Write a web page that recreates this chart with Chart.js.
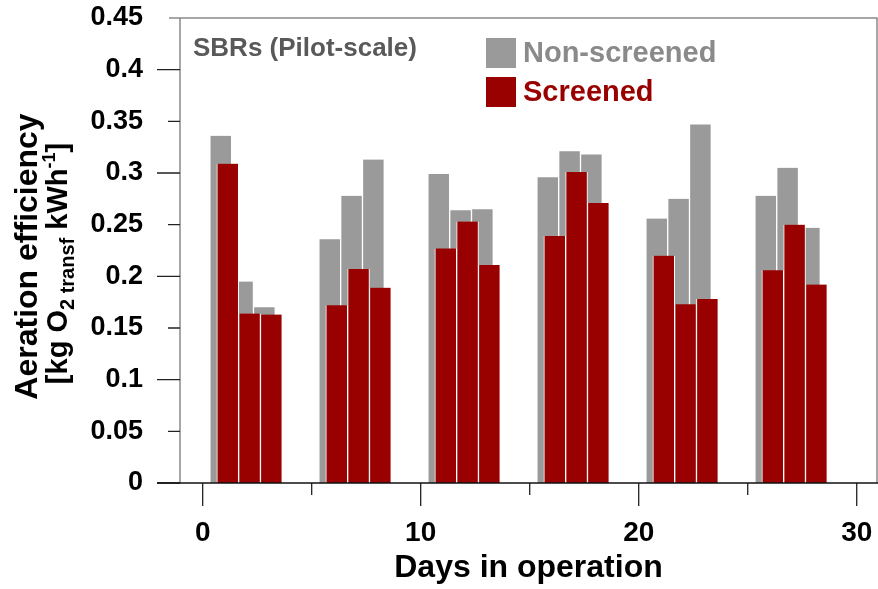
<!DOCTYPE html>
<html>
<head>
<meta charset="utf-8">
<script src="https://cdn.jsdelivr.net/npm/chart.js@4.4.1/dist/chart.umd.min.js"></script>
<style>
  html, body { margin: 0; padding: 0; background: #fff; }
  #wrap { width: 878px; height: 589px; }
</style>
</head>
<body>
<div id="wrap"><canvas id="chart"></canvas></div>
<script>
// days on which aeration efficiency was measured
const days = [1, 2, 3, 6, 7, 8, 11, 12, 13, 16, 17, 18, 21, 22, 23, 26, 27, 28];
// kg O2 transferred per kWh
const nonScreened = [0.336, 0.195, 0.170, 0.236, 0.278, 0.313, 0.299, 0.264, 0.265,
                     0.296, 0.321, 0.318, 0.256, 0.275, 0.347, 0.278, 0.305, 0.247];
const screened = [0.309, 0.164, 0.163, 0.172, 0.207, 0.189, 0.227, 0.253, 0.211,
                  0.239, 0.301, 0.271, 0.220, 0.173, 0.178, 0.206, 0.250, 0.192];

const xTickValues = [0, 10, 20, 30];
const xMinorTickValues = [5, 15, 25];
const yTickValues = [0, 0.05, 0.1, 0.15, 0.2, 0.25, 0.3, 0.35, 0.4, 0.45];

const FONT = "'Liberation Sans', Arial, Helvetica, sans-serif";
const GRAY = '#9a9a9a';
const RED = '#990000';

const fixedTicks = (values) => (scale) => {
  scale.ticks = values.map(v => ({ value: v }));
};

// grey box, black x axis and the tick marks (long on major, short on minor)
const axesFrame = {
  id: 'axesFrame',
  afterDatasetsDraw(chart) {
    const { ctx, chartArea: a, scales: { x, y } } = chart;
    ctx.save();
    ctx.lineWidth = 1.5;
    ctx.strokeStyle = '#8a8a8a';
    ctx.beginPath();
    ctx.moveTo(a.left - 11, a.top);
    ctx.lineTo(a.right, a.top);
    ctx.lineTo(a.right, a.bottom);
    ctx.moveTo(a.left, a.top);
    ctx.lineTo(a.left, a.bottom);
    ctx.stroke();

    ctx.strokeStyle = '#222';
    ctx.lineWidth = 1.3;
    ctx.beginPath();
    yTickValues.slice(0, -1).forEach(v => {
      const py = y.getPixelForValue(v);
      const major = Math.abs(v * 10 - Math.round(v * 10)) < 1e-6;
      ctx.moveTo(a.left - (major ? 23 : 12), py);
      ctx.lineTo(a.left, py);
    });
    xTickValues.forEach(v => {
      const px = x.getPixelForValue(v);
      ctx.moveTo(px, a.bottom);
      ctx.lineTo(px, a.bottom + 23);
    });
    xMinorTickValues.forEach(v => {
      const px = x.getPixelForValue(v);
      ctx.moveTo(px, a.bottom);
      ctx.lineTo(px, a.bottom + 12);
    });
    ctx.stroke();

    ctx.strokeStyle = '#111';
    ctx.lineWidth = 1.6;
    ctx.beginPath();
    ctx.moveTo(a.left - 23, a.bottom);
    ctx.lineTo(chart.width, a.bottom);
    ctx.stroke();
    ctx.restore();
  }
};

// y title with subscript / superscript, legend and panel label
const annotations = {
  id: 'annotations',
  afterDraw(chart) {
    const { ctx, chartArea: a } = chart;
    ctx.save();

    ctx.fillStyle = '#595959';
    ctx.font = `bold 26px ${FONT}`;
    ctx.textBaseline = 'alphabetic';
    ctx.textAlign = 'left';
    ctx.fillText('SBRs (Pilot-scale)', 193, 56);

    ctx.font = `bold 29px ${FONT}`;
    ctx.textBaseline = 'middle';
    chart.data.datasets.forEach((ds, i) => {
      const top = 38 + i * 39;
      ctx.fillStyle = ds.backgroundColor;
      ctx.fillRect(486, top, 30, 30);
      ctx.fillStyle = i === 0 ? '#8a8a8a' : RED;
      ctx.fillText(ds.label, 523, top + 16);
    });

    // rotated axis title
    const cy = (a.top + a.bottom) / 2 + 6;
    ctx.translate(0, cy);
    ctx.rotate(-Math.PI / 2);
    ctx.fillStyle = '#000';
    ctx.textBaseline = 'alphabetic';
    ctx.textAlign = 'center';
    ctx.font = `bold 32px ${FONT}`;
    ctx.fillText('Aeration efficiency', 0, 37);

    const parts = [
      { t: '[kg O', size: 29, dy: 0 },
      { t: '2', size: 20, dy: 7 },
      { t: ' transf', size: 20, dy: 7 },
      { t: ' kWh', size: 29, dy: 0 },
      { t: '-1', size: 18, dy: -12 },
      { t: ']', size: 29, dy: 0 }
    ];
    let total = 0;
    parts.forEach(p => {
      ctx.font = `bold ${p.size}px ${FONT}`;
      p.w = ctx.measureText(p.t).width;
      total += p.w;
    });
    ctx.textAlign = 'left';
    let px = -total / 2 - 7;
    parts.forEach(p => {
      ctx.font = `bold ${p.size}px ${FONT}`;
      ctx.fillText(p.t, px, 67 + p.dy);
      px += p.w;
    });
    ctx.restore();
  }
};

new Chart(document.getElementById('chart'), {
  type: 'bar',
  data: {
    labels: days,
    datasets: [
      {
        label: 'Non-screened',
        data: days.map((d, i) => ({ x: d, y: nonScreened[i] })),
        xAxisID: 'xNon',
        backgroundColor: GRAY,
        borderColor: '#ffffff',
        borderWidth: { left: 1, right: 1, top: 0, bottom: 0 },
        order: 2
      },
      {
        label: 'Screened',
        data: days.map((d, i) => ({ x: d, y: screened[i] })),
        xAxisID: 'xScr',
        backgroundColor: RED,
        borderColor: '#ffffff',
        borderWidth: { left: 1, right: 1, top: 0, bottom: 0 },
        order: 1
      }
    ]
  },
  options: {
    responsive: true,
    maintainAspectRatio: false,
    animation: false,
    grouped: false,
    barPercentage: 1,
    categoryPercentage: 1,
    layout: { padding: { top: 18, right: 1, left: 0, bottom: 0 } },
    plugins: { legend: { display: false }, tooltip: { enabled: false } },
    scales: {
      x: {
        type: 'linear',
        position: 'bottom',
        offset: false,
        min: -1.04,
        max: 30.93,
        afterBuildTicks: fixedTicks(xTickValues),
        afterFit: (s) => { s.height = 106; },
        grid: { display: false, drawTicks: true, tickLength: 33 },
        border: { display: false },
        ticks: {
          padding: 0,
          color: '#000',
          maxRotation: 0,
          font: { family: FONT, size: 28, weight: 'bold' }
        },
        title: {
          display: true,
          text: 'Days in operation',
          color: '#000',
          font: { family: FONT, size: 32, weight: 'bold' },
          padding: { top: 0, bottom: 2 }
        }
      },
      xScr: {
        type: 'linear',
        display: false,
        offset: false,
        min: -1.19,
        max: 30.78,
        afterBuildTicks: fixedTicks(days)
      },
      xNon: {
        type: 'linear',
        display: false,
        offset: false,
        min: -0.87,
        max: 31.10,
        afterBuildTicks: fixedTicks(days)
      },
      y: {
        min: 0,
        max: 0.45,
        afterBuildTicks: fixedTicks(yTickValues),
        afterFit: (s) => { s.width = 180; },
        grid: { display: false, drawTicks: true, tickLength: 37 },
        border: { display: false },
        ticks: {
          padding: 0,
          color: '#000',
          callback: (v) => String(+v.toFixed(2)),
          font: { family: FONT, size: 27, weight: 'bold' }
        }
      }
    }
  },
  plugins: [axesFrame, annotations]
});
</script>
</body>
</html>
